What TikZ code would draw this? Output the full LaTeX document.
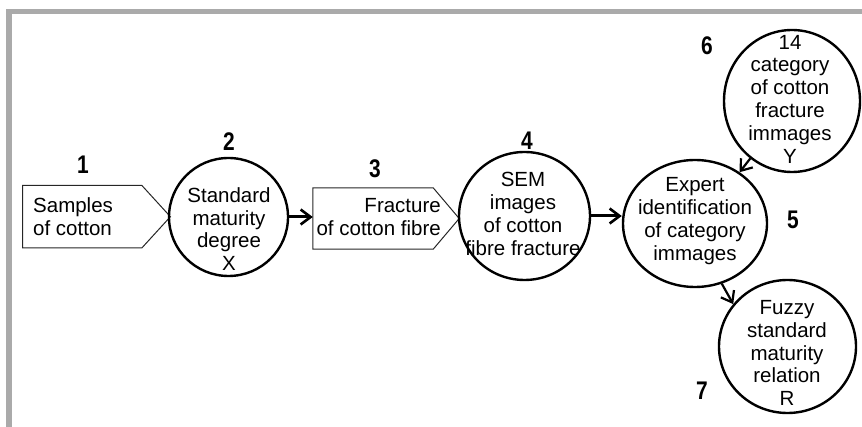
\documentclass[tikz,border=0pt]{standalone}
\usepackage{fontspec}
\setmainfont{Liberation Sans}
\usetikzlibrary{shapes.geometric,arrows.meta,calc}
\definecolor{framegray}{HTML}{AAAAAA}
\newcommand{\narrownum}[1]{\scalebox{0.82}[1]{#1}}
\tikzset{
  circ/.style={draw=black, line width=2.4pt, ellipse, inner sep=0pt},
  txt/.style={font=\fontsize{20.5}{22.8}\selectfont, align=center, inner sep=0pt},
  num/.style={font=\fontsize{25.5}{28}\selectfont\bfseries, inner sep=0pt},
  boxbody/.style={inner sep=0pt},
  penta/.style={draw=black!85, line width=1pt},
  flowarrow/.style={line width=3pt, -{Straight Barb[length=10pt,width=15pt,line width=2.6pt]}},
  diagarrow/.style={line width=2.2pt, -{Straight Barb[length=10pt,width=15pt,line width=2.2pt]}}
}
\begin{document}
\begin{tikzpicture}[x=1pt,y=-1pt]
\useasboundingbox (0,0) rectangle (862,427);
% frame
\fill[framegray] (6,9.5) rectangle (862,14.5);
\fill[framegray] (6,9.5) rectangle (11.5,427);

% node 1 (pentagon)
\node[boxbody, minimum width=119pt, minimum height=62pt] (n1) at (82.2,216.7) {};
\draw[penta] (n1.north west) -- (n1.north east) -- ($(n1.east)+(28.5,0)$) -- (n1.south east) -- (n1.south west) -- cycle;
\node[txt, align=left, anchor=west] (t1) at (33,217) {Samples\\of cotton};
\node[num] (l1) at (83,165) {\narrownum{1}};

% node 2
\node[circ, minimum width=119pt, minimum height=118pt] (c2) at (228.5,217) {};
\node[txt] (t2) at (229,229) {Standard\\maturity\\degree\\X};
\node[num] (l2) at (229,142) {\narrownum{2}};

% node 3 (pentagon)
\node[boxbody, minimum width=120pt, minimum height=61pt] (n3) at (373,218.5) {};
\draw[penta] (n3.north west) -- (n3.north east) -- ($(n3.east)+(26,0)$) -- (n3.south east) -- (n3.south west) -- cycle;
\node[txt, align=right, anchor=east] (t3) at (441,217) {Fracture\\of cotton fibre};
\node[num] (l3) at (375,169) {\narrownum{3}};

% node 4
\node[circ, minimum width=131pt, minimum height=128pt] (c4) at (524.5,216) {};
\node[txt] (t4) at (523,214) {SEM\\images\\of cotton\\fibre fracture};
\node[num] (l4) at (527,141) {\narrownum{4}};

% node 5
\node[circ, minimum width=144pt, minimum height=127pt] (c5) at (695,223.5) {};
\node[txt] (t5) at (695,221) {Expert\\identification\\of category\\immages};
\node[num] (l5) at (793,220) {\narrownum{5}};

% node 6
\node[circ, minimum width=136pt, minimum height=142pt] (c6) at (792,101) {};
\node[txt] (t6) at (790,99) {14\\category\\of cotton\\fracture\\immages\\Y};
\node[num] (l6) at (707,46) {\narrownum{6}};

% node 7
\node[circ, minimum width=137pt, minimum height=133pt] (c7) at (787.5,346.5) {};
\node[txt] (t7) at (787,353) {Fuzzy\\standard\\maturity\\relation\\R};
\node[num] (l7) at (702,391) {\narrownum{7}};

% connectors
\draw[flowarrow] (c2.east) -- (c2.east -| n3.west);
\draw[flowarrow] (c4.east) -- (c4.east -| c5.west);
\draw[diagarrow] (c6.234) -- (c5.49);
\draw[diagarrow] (c5.294) -- (c7.142);
\end{tikzpicture}
\end{document}
